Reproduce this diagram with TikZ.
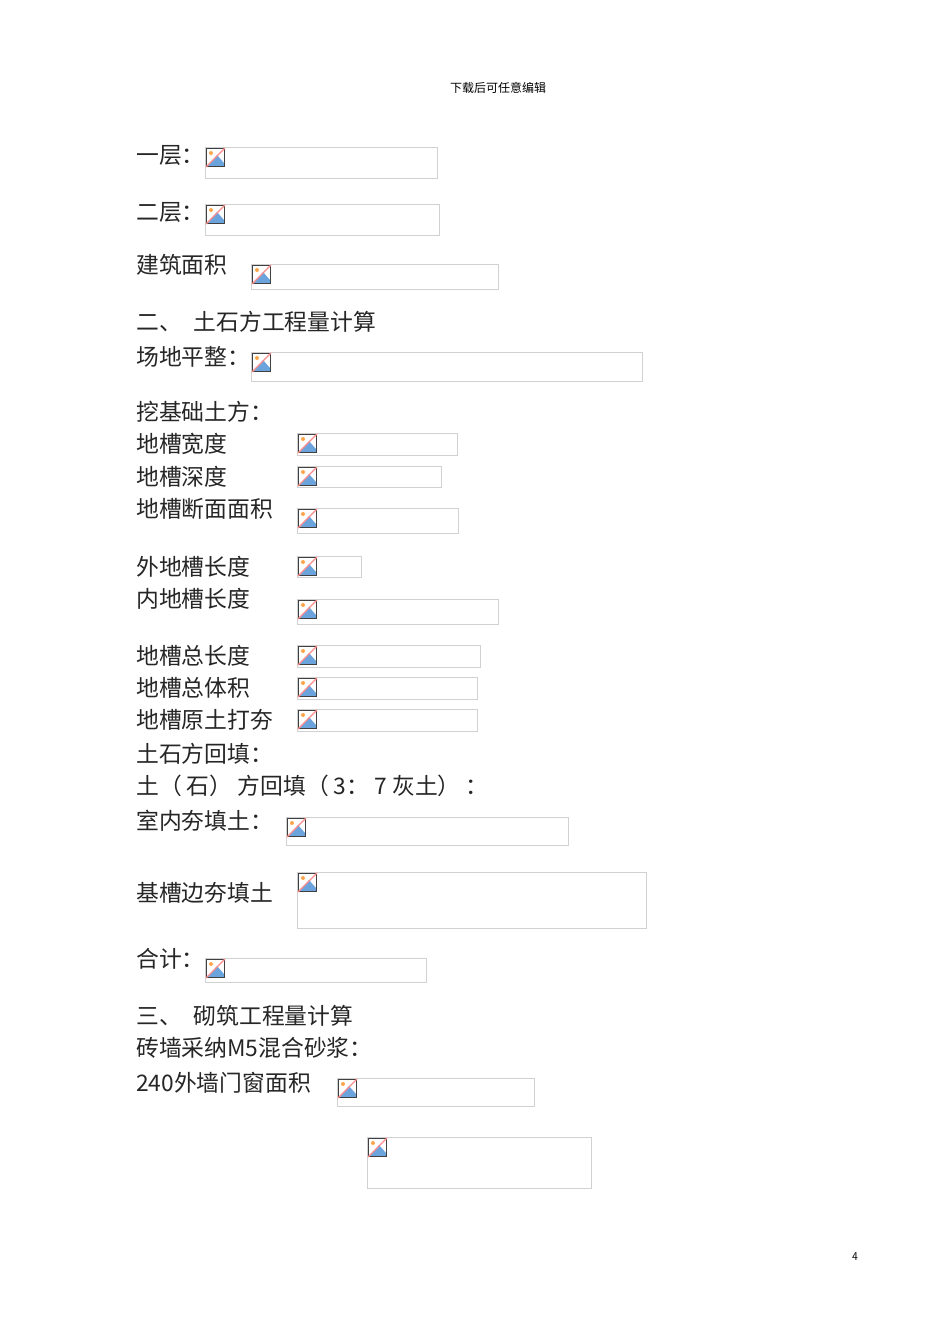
\documentclass[tikz,border=0pt]{standalone}
\usepackage{fontspec}
\newfontfamily\cjk{Noto Sans CJK SC}[Scale=1]
\tikzset{x=1pt,y=-1pt,
 txt/.style={anchor=west,inner sep=0pt,font=\cjk\fontsize{22.8}{24}\selectfont,text=black!85},
 ph/.style={draw=black!18,line width=0.8pt}}
\newcommand{\imgph}[5]{%
 \draw[ph] (#1,#2) rectangle (#3,#4);
 \begin{scope}[shift={(#1+1,#2+1)}]
  \node[inner sep=0pt] (#5) at (9,9) {};
  \fill[white] (0,0) rectangle (19,19);
  \fill[cyan!60!blue!60] (2,18) -- (11,7) -- (18,15) -- (18,18) -- cycle;
  \fill[orange!70] (5,5) circle (2);
  \draw[black!75,line width=0.9pt] (0.5,0.5) rectangle (18.5,18.5);
  \draw[red!45,line width=1.2pt] (0,19) -- (19,0);
 \end{scope}}
\begin{document}
\begin{tikzpicture}
\fill[white] (0,0) rectangle (950,1344);
\useasboundingbox (0,0) rectangle (950,1344);
\node[font=\cjk\fontsize{12}{13}\selectfont] (hd) at (498,88) {下载后可任意编辑};
\node[font=\sffamily\fontsize{12}{13}\selectfont] (pg) at (855,1257) {4};
\imgph{205}{147}{437}{178}{i1}
\imgph{205}{204}{439}{235}{i2}
\imgph{251}{264}{498}{289}{i3}
\imgph{251}{352}{642}{381}{i4}
\imgph{297}{433}{457}{455}{i5}
\imgph{297}{466}{441}{487}{i6}
\imgph{297}{508}{458}{533}{i7}
\imgph{297}{556}{361}{577}{i8}
\imgph{297}{599}{498}{624}{i9}
\imgph{297}{645}{480}{667}{i10}
\imgph{297}{677}{477}{699}{i11}
\imgph{297}{709}{477}{731}{i12}
\imgph{286}{817}{568}{845}{i13}
\imgph{297}{872}{646}{928}{i14}
\imgph{205}{958}{426}{982}{i15}
\imgph{337}{1078}{534}{1106}{i16}
\imgph{367}{1137}{591}{1188}{i17}
\node[txt] (t1) at (136,155) {一层：};
\node[txt] (t2) at (136,212) {二层：};
\node[txt] (t3) at (136,265) {建筑面积};
\node[txt] (t4) at (136,322) {二、\hspace{12pt}土石方工程量计算};
\node[txt] (t5) at (136,357) {场地平整：};
\node[txt] (t6) at (136,412) {挖基础土方：};
\node[txt] (t7) at (136,444) {地槽宽度};
\node[txt] (t8) at (136,477) {地槽深度};
\node[txt] (t9) at (136,509) {地槽断面面积};
\node[txt] (t10) at (136,567) {外地槽长度};
\node[txt] (t11) at (136,599) {内地槽长度};
\node[txt] (t12) at (136,656) {地槽总长度};
\node[txt] (t13) at (136,688) {地槽总体积};
\node[txt] (t14) at (136,720) {地槽原土打夯};
\node[txt] (t15) at (136,754) {土石方回填：};
\node[txt] (t16) at (136,786) {土（ 石） 方回填（ 3： 7 灰土） ：};
\node[txt] (t17) at (136,821) {室内夯填土：};
\node[txt] (t18) at (136,893) {基槽边夯填土};
\node[txt] (t19) at (136,959) {合计：};
\node[txt] (t20) at (136,1016) {三、\hspace{12pt}砌筑工程量计算};
\node[txt] (t21) at (136,1048) {砖墙采纳M5混合砂浆：};
\node[txt] (t22) at (136,1083) {240外墙门窗面积};
\end{tikzpicture}
\end{document}
